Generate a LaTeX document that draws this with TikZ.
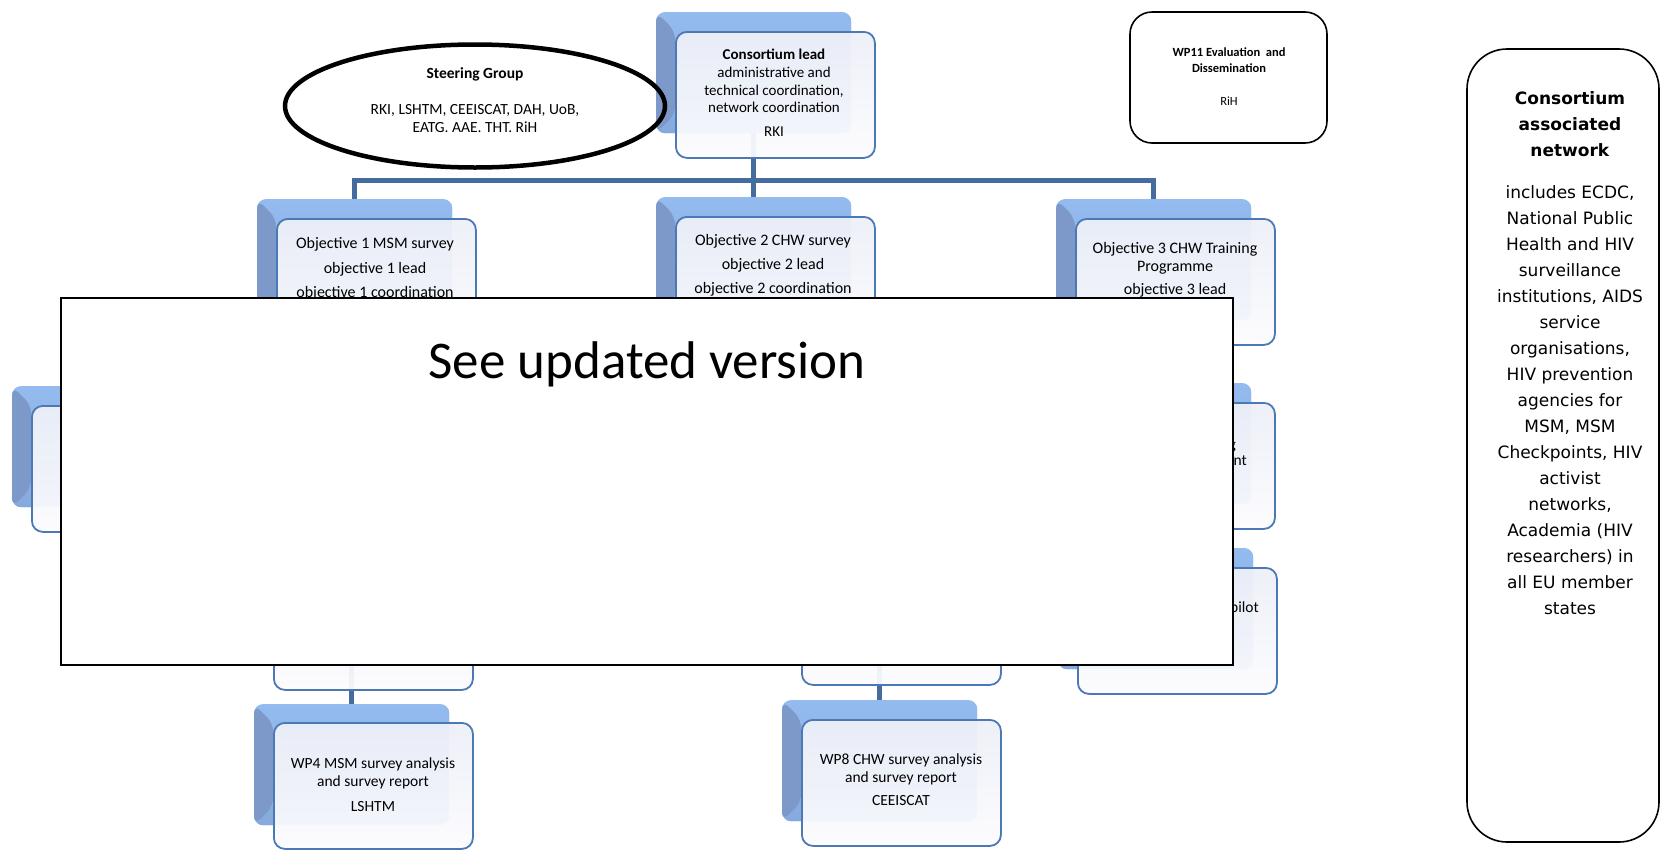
\documentclass[tikz,border=0pt]{standalone}
\usepackage{fontspec}
\setmainfont{Carlito}
\newfontfamily\verdfont{DejaVu Sans}
\usetikzlibrary{shapes.geometric}
\definecolor{conn}{HTML}{456C9E}
\definecolor{frontline}{HTML}{4A79B6}
\definecolor{fronttop}{HTML}{EEF0F8}
\definecolor{frontbot}{HTML}{FCFCFE}
\definecolor{backtop}{HTML}{94BBEF}
\definecolor{backbot}{HTML}{86AADD}
\definecolor{backdark}{HTML}{7C99C9}
\begin{document}
\begin{tikzpicture}[x=1pt,y=-1pt,
  connline/.style={draw=conn,line width=5pt},
  backbox/.style={rounded corners=9pt,top color=backtop,bottom color=backbot,draw=none,
    minimum width=195pt,minimum height=121pt,inner sep=0pt,anchor=north west,
    path picture={\fill[backdark] (path picture bounding box.north west) --
      ([xshift=19pt,yshift=-19pt]path picture bounding box.north west) --
      ([xshift=19pt,yshift=19pt]path picture bounding box.south west) --
      (path picture bounding box.south west) -- cycle;}},
  frontbox/.style={draw=frontline,line width=1.8pt,rounded corners=11pt,top color=fronttop,bottom color=frontbot,
    fill opacity=0.94,minimum width=199pt,minimum height=126pt,inner sep=0pt,anchor=north west},
  txt/.style={align=center,text=black,inner sep=0pt},
  outlinebox/.style={draw=black,line width=1.6pt,fill=white,inner sep=0pt}]
\useasboundingbox (0,0) rectangle (1662,849);
\fill[white] (0,0) rectangle (1662,849);

% back boxes (positions only)
\node[backbox] (leadB) at (656,12) {};
\node[backbox] (obj1B) at (257,199) {};
\node[backbox] (obj2B) at (656,197) {};
\node[backbox] (obj3B) at (1056,199) {};
\node[backbox] (c1midB) at (12,386) {};
\node[backbox] (c3midB) at (1056,383) {};
\node[backbox] (c1lowB) at (254,544) {};
\node[backbox] (c2lowB) at (782,539) {};
\node[backbox] (c3lowB) at (1058,548) {};
\node[backbox] (wp4B) at (254,704) {};
\node[backbox] (wp8B) at (782,700) {};

% connectors
\coordinate (bus) at (753.5,180);
\draw[connline] (leadB.south) -- (obj2B.north);
\draw[connline] (obj1B.north) |- (bus) -| (obj3B.north);
\draw[connline] (c1lowB.south) -- (wp4B.north);
\draw[connline] (c2lowB.south) -- (wp8B.north);

% redraw back boxes above connectors
\node[backbox] at (656,12) {};
\node[backbox] at (257,199) {};
\node[backbox] at (656,197) {};
\node[backbox] at (1056,199) {};
\node[backbox] at (12,386) {};
\node[backbox] at (1056,383) {};
\node[backbox] at (254,544) {};
\node[backbox] at (782,539) {};
\node[backbox] at (1058,548) {};
\node[backbox] at (254,704) {};
\node[backbox] at (782,700) {};

% front boxes
\node[frontbox] (leadF) at (675,31) {};
\node[frontbox] (obj1F) at (276,218) {};
\node[frontbox] (obj2F) at (675,216) {};
\node[frontbox] (obj3F) at (1075,218) {};
\node[frontbox] (c1midF) at (31,405) {};
\node[frontbox] (c3midF) at (1075,402) {};
\node[frontbox] (c1lowF) at (273,563) {};
\node[frontbox] (c2lowF) at (801,558) {};
\node[frontbox] (c3lowF) at (1077,567) {};
\node[frontbox] (wp4F) at (273,722) {};
\node[frontbox] (wp8F) at (801,719) {};

% texts in boxes
\node[txt,font=\fontsize{15}{17.7}\selectfont] (leadT) at (774,93) {\textbf{Consortium lead}\\administrative and\\technical coordination,\\network coordination\\[6pt]RKI};
\node[txt,font=\fontsize{16}{24.5}\selectfont] (obj1T) at (375,269) {Objective 1 MSM survey\\objective 1 lead\\objective 1 coordination};
\node[txt,font=\fontsize{16}{24}\selectfont] (obj2T) at (773,265) {Objective 2 CHW survey\\objective 2 lead\\objective 2 coordination};
\node[txt,font=\fontsize{16}{18}\selectfont] (obj3T) at (1175,269.5) {Objective 3 CHW Training\\Programme\\[5pt]objective 3 lead};
\node[txt,font=\fontsize{15.5}{18}\selectfont] (wp4T) at (373,785) {WP4 MSM survey analysis\\and survey report\\[7pt]LSHTM};
\node[txt,font=\fontsize{15.5}{18}\selectfont] (wp8T) at (901,779.5) {WP8 CHW survey analysis\\and survey report\\[5pt]CEEISCAT};

% partial texts at the right column
\node[txt,font=\fontsize{15.5}{18}\selectfont,anchor=base east] (c3midTa) at (1236,449) {g};
\node[txt,font=\fontsize{15.5}{18}\selectfont,anchor=base east] (c3midTb) at (1247,465) {nt};
\node[txt,font=\fontsize{15.5}{18}\selectfont,anchor=base east] (c3lowT) at (1259,612) {pilot};

% steering group
\node[draw=black,line width=4.5pt,ellipse,minimum width=380pt,minimum height=123pt,inner sep=0pt] (steer) at (475,106) {};
\node[txt,font=\fontsize{15.5}{18}\selectfont] (steerT) at (475,100) {\textbf{Steering Group}\\[18pt]RKI, LSHTM, CEEISCAT, DAH, UoB,\\EATG. AAE. THT. RiH};

% WP11
\node[outlinebox,rounded corners=22pt,minimum width=197pt,minimum height=131pt] (wp11) at (1228.5,77.5) {};
\node[txt,font=\fontsize{12.5}{16}\selectfont] (wp11T) at (1229,77) {\textbf{WP11 Evaluation\ \ and}\\\textbf{Dissemination}\\[17pt]RiH};

% consortium associated network
\node[outlinebox,rounded corners=40pt,minimum width=192pt,minimum height=793pt] (net) at (1563,445.5) {};
\node[txt,font=\verdfont\fontsize{17}{26}\selectfont] (netT) at (1570,353.5) {\textbf{Consortium}\\\textbf{associated}\\\textbf{network}\\[16pt]includes ECDC,\\National Public\\Health and HIV\\surveillance\\institutions, AIDS\\service\\organisations,\\HIV prevention\\agencies for\\MSM, MSM\\Checkpoints, HIV\\activist\\networks,\\Academia (HIV\\researchers) in\\all EU member\\states};

% cover
\node[draw=black,line width=1.2pt,fill=white,minimum width=1172pt,minimum height=367pt,inner sep=0pt] (cover) at (647,481.5) {};
\node[txt,font=\fontsize{53}{60}\selectfont,anchor=base] (coverT) at (647,378) {See updated version};
\end{tikzpicture}
\end{document}
